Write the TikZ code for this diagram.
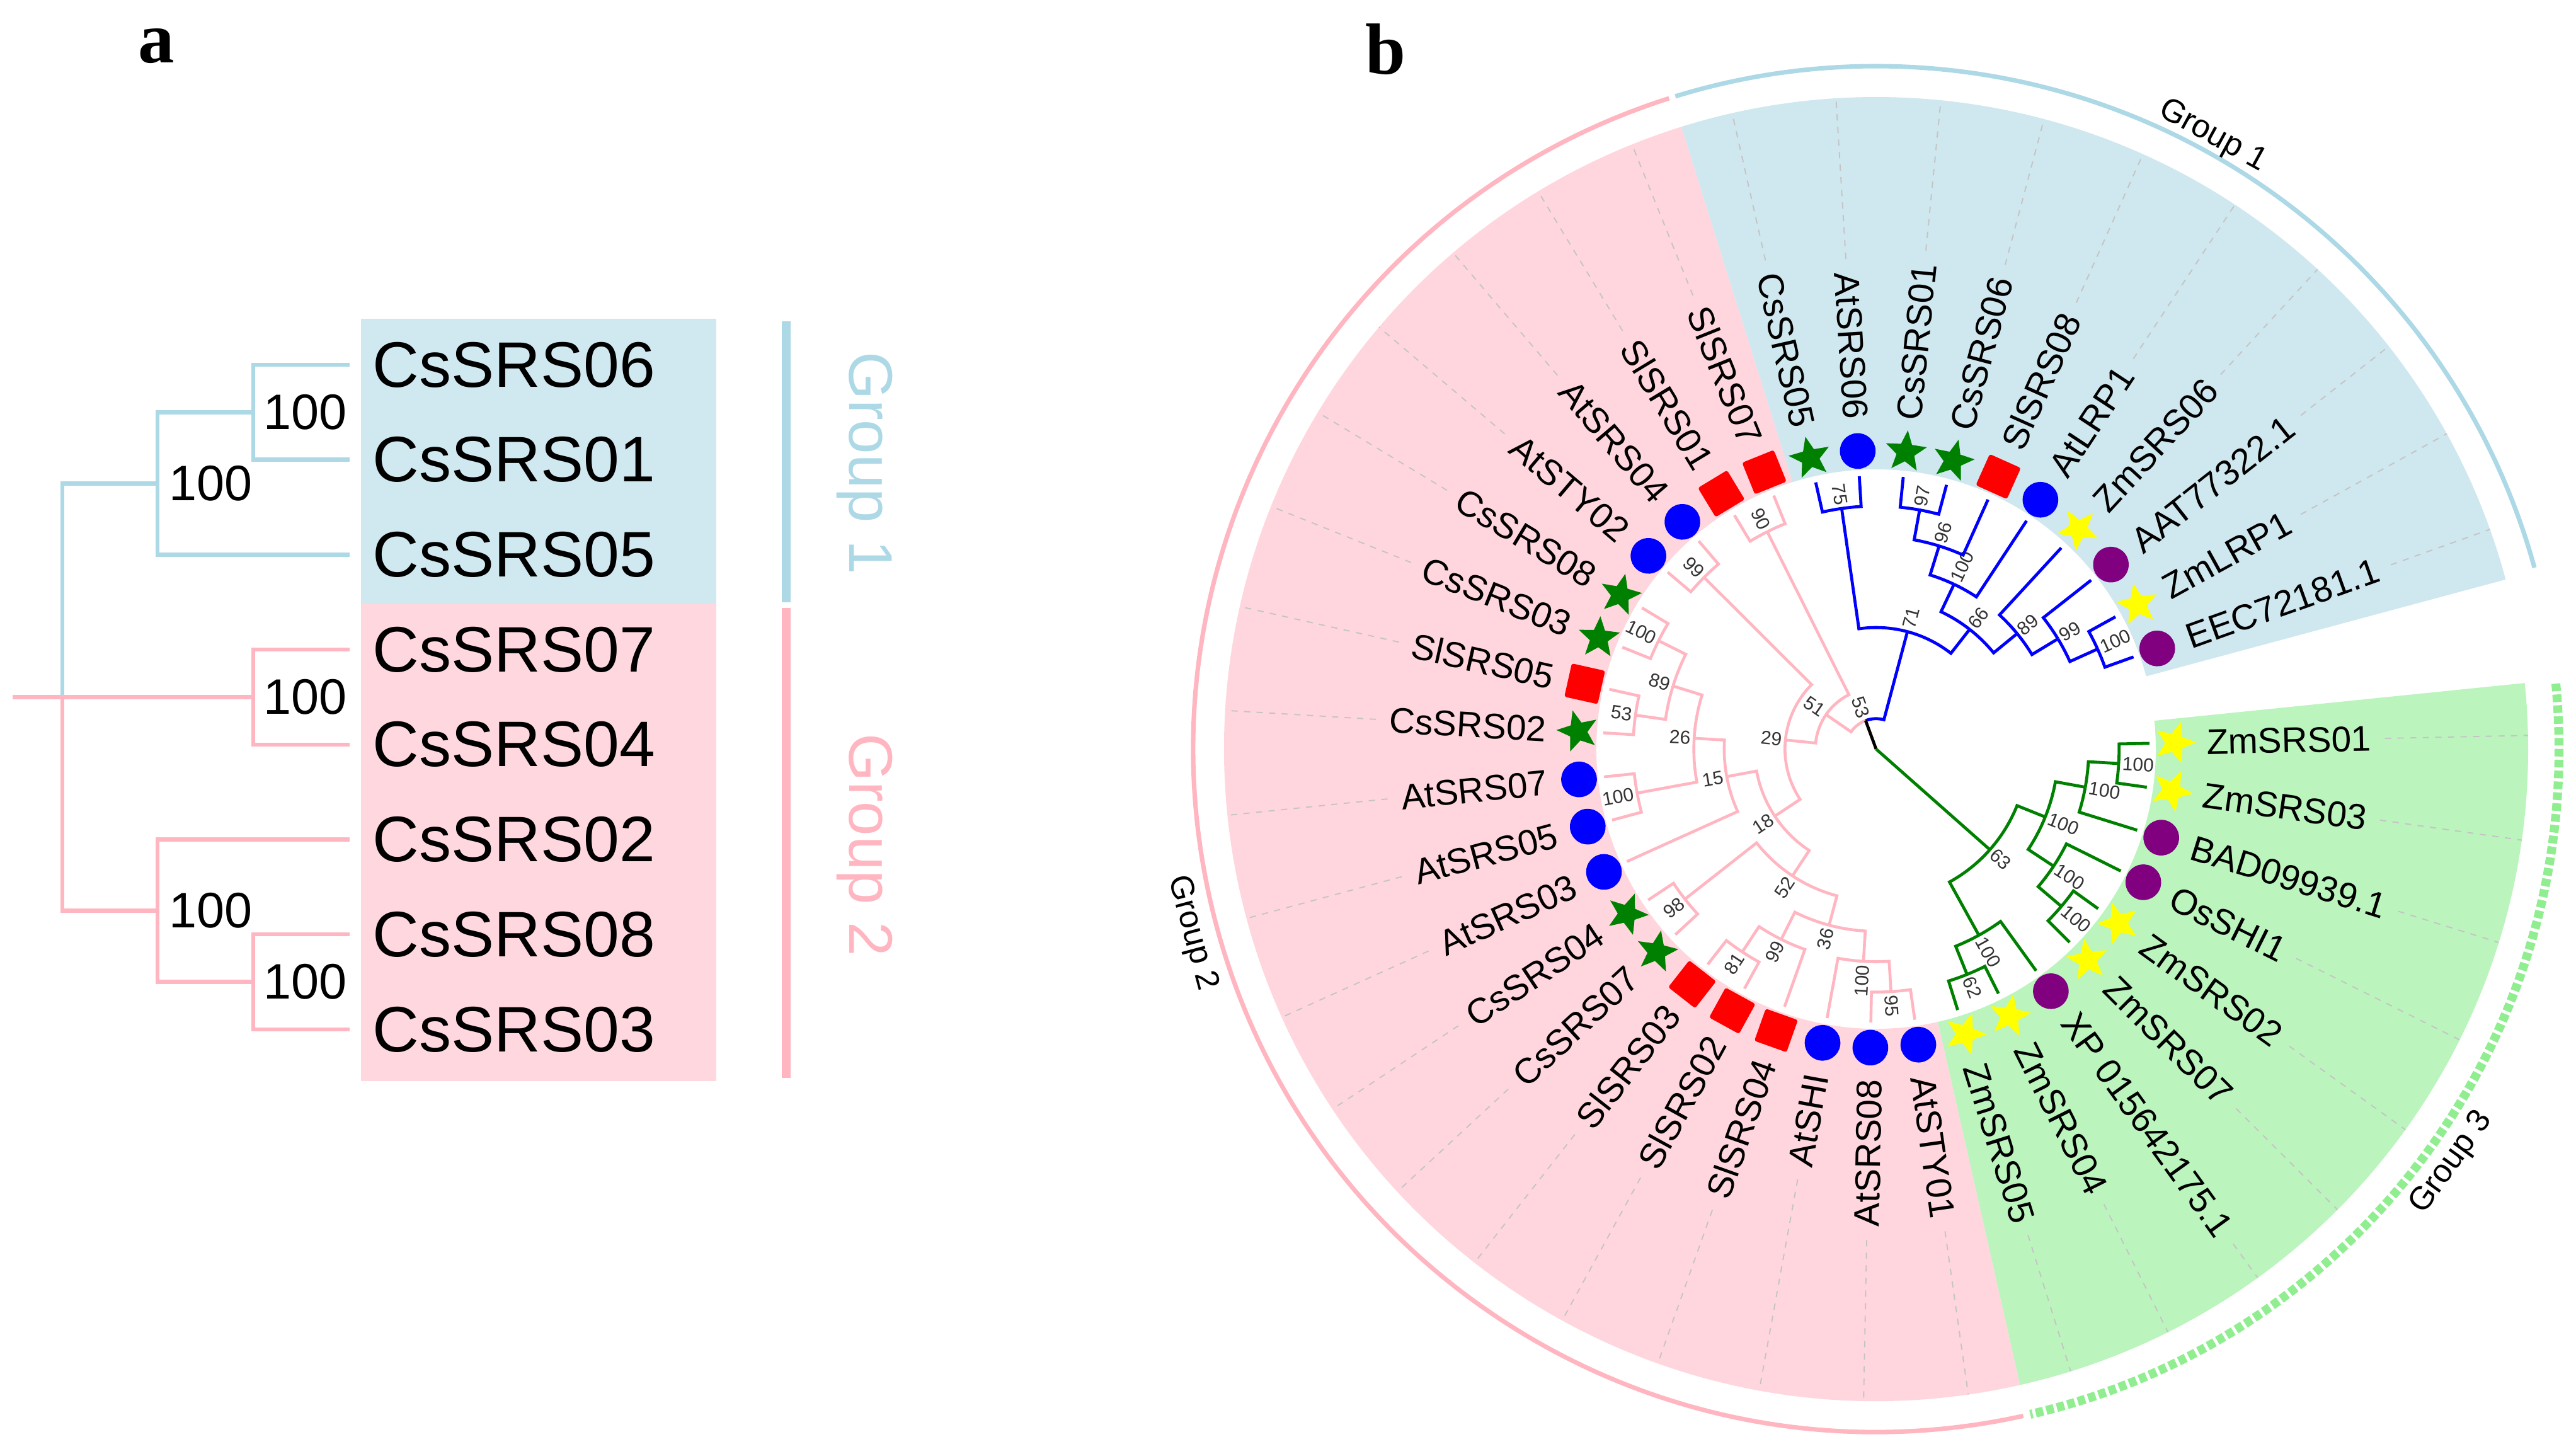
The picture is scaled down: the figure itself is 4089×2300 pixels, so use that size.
\documentclass[tikz,border=0pt]{standalone}
\usepackage{fontspec}
\setmainfont{Liberation Sans}
\newfontfamily\panelfont{Liberation Serif}
\usetikzlibrary{shapes.geometric}
\definecolor{tblue}{RGB}{0,0,255}
\definecolor{tpink}{RGB}{255,182,193}
\definecolor{tgreen}{RGB}{0,128,0}
\definecolor{lblue}{RGB}{173,216,230}
\definecolor{lgreen}{RGB}{144,238,144}
\definecolor{shblue}{RGB}{207,231,238}
\definecolor{shpink}{RGB}{255,214,222}
\definecolor{shgreen}{RGB}{187,244,189}
\definecolor{boxblue}{RGB}{208,232,239}
\definecolor{boxpink}{RGB}{255,216,223}
\definecolor{mpurple}{RGB}{128,0,128}
\definecolor{myellow}{RGB}{255,255,0}
\definecolor{mred}{RGB}{255,0,0}
\definecolor{dashgray}{RGB}{196,196,196}
\newcommand\conn[3]{\draw[#3] (#1) arc[start angle=\csname tA#1\endcsname, end angle=\csname tA#2\endcsname, radius=\csname tR#1\endcsname] -- (#2);}
\newcommand\sector[3]{\fill[#3] (#1:444) -- (#1:1035) arc[start angle=#1, end angle=#2, radius=1035] -- (#2:444) arc[start angle=#2, end angle=#1, radius=444] -- cycle;}
\tikzset{
 ablue/.style={draw=lblue, line width=1.56pt},
 apink/.style={draw=tpink, line width=1.56pt},
 alab/.style={anchor=west, inner sep=0pt, font=\fontsize{24.5}{28}\selectfont},
 abs/.style={inner sep=0pt, font=\fontsize{19}{22}\selectfont},
 agrp/.style={rotate=-90, inner sep=0pt, font=\fontsize{23.5}{27}\selectfont},
 panel/.style={inner sep=0pt, font=\panelfont\bfseries\fontsize{27.6}{32}\selectfont},
 bline/.style={draw=tblue, line width=1.15pt},
 pline/.style={draw=tpink, line width=1.1pt},
 gline/.style={draw=tgreen, line width=1.15pt},
 kline/.style={draw=black, line width=1.15pt},
 blab/.style={inner sep=0pt, font=\fontsize{13.6}{16}\selectfont},
 bsb/.style={inner sep=0pt, text=black!80, font=\fontsize{7.2}{8}\selectfont},
 bgrp/.style={inner sep=0pt, font=\fontsize{12.4}{14}\selectfont},
 dashln/.style={draw=dashgray, line width=0.45pt, dash pattern=on 2.4pt off 2.4pt, shorten <=5pt},
 mcircle/.style={circle, inner sep=0pt, minimum size=13.6pt},
 msquare/.style={rectangle, inner sep=0pt, minimum size=13pt, rounded corners=0.8pt},
 mstar/.style={star, star points=5, star point ratio=2.3, inner sep=0pt, minimum size=16.5pt},
}
\begin{document}
\begin{tikzpicture}[x=0.24pt,y=0.24pt]
\useasboundingbox (0,0) rectangle (4089,2300);
% ================= panel a =================
\node[panel] (pa) at (248,2227) {a};
\fill[boxblue] (573,1342) rectangle (1137,1794);
\fill[boxpink] (573,584) rectangle (1137,1342);
\coordinate (e1) at (555,1721);
\coordinate (e2) at (555,1570.3);
\coordinate (e3) at (555,1419.6);
\coordinate (e4) at (555,1268.9);
\coordinate (e5) at (555,1118.2);
\coordinate (e6) at (555,967.5);
\coordinate (e7) at (555,816.8);
\coordinate (e8) at (555,666.1);
\coordinate (nA) at (402,1645.65);
\coordinate (nB) at (250,1532.6);
\coordinate (nC) at (402,1193.55);
\coordinate (nD) at (402,741.45);
\coordinate (nE) at (250,854.5);
\coordinate (nR) at (99,1193.55);
\coordinate (r0) at (20,1193.55);
\draw[ablue] (nA) |- (e1);
\draw[ablue] (nA) |- (e2);
\draw[ablue] (nB) |- (nA);
\draw[ablue] (nB) |- (e3);
\draw[ablue] (nR) |- (nB);
\draw[apink] (nR) |- (nE);
\draw[apink] (r0) -- (nC);
\draw[apink] (nC) |- (e4);
\draw[apink] (nC) |- (e5);
\draw[apink] (nE) |- (e6);
\draw[apink] (nE) |- (nD);
\draw[apink] (nD) |- (e7);
\draw[apink] (nD) |- (e8);
\node[alab] (t1) at (591,1721) {CsSRS06};
\node[alab] (t2) at (591,1570.3) {CsSRS01};
\node[alab] (t3) at (591,1419.6) {CsSRS05};
\node[alab] (t4) at (591,1268.9) {CsSRS07};
\node[alab] (t5) at (591,1118.2) {CsSRS04};
\node[alab] (t6) at (591,967.5) {CsSRS02};
\node[alab] (t7) at (591,816.8) {CsSRS08};
\node[alab] (t8) at (591,666.1) {CsSRS03};
\node[abs] (bA) at (485,1645.65) {100};
\node[abs] (bB) at (335,1532.6) {100};
\node[abs] (bC) at (485,1193.55) {100};
\node[abs] (bE) at (335,854.5) {100};
\node[abs] (bD) at (485,741.45) {100};
\draw[lblue, line width=3.36pt] (1248,1790) -- (1248,1344);
\draw[tpink, line width=3.36pt] (1248,1335) -- (1248,589);
\node[agrp, text=lblue] (ga1) at (1373,1565) {Group 1};
\node[agrp, text=tpink] (ga2) at (1373,959) {Group 2};
% ================= panel b =================
\node[panel] (pb) at (2199,2222) {b};
\begin{scope}[shift={(2978,1111)}]
\sector{5.815}{-77.255}{shgreen}
\sector{-77.255}{-252.625}{shpink}
\sector{-252.625}{-344.925}{shblue}
\draw[tpink, line width=1.7pt] (-77.55:1084) arc[start angle=-77.55, end angle=-252.35, radius=1084];
\draw[lblue, line width=1.7pt] (-252.9:1084) arc[start angle=-252.9, end angle=-344.6, radius=1084];
\draw[lgreen, line width=3.4pt, dash pattern=on 2.9pt off 1.25pt] (5.5:1084) arc[start angle=5.5, end angle=-76.95, radius=1084];
\node[bgrp, rotate=-28.8] (gb1) at (-298.775:1110) {Group 1};
\node[bgrp, rotate=285.06] (gb2) at (-164.94:1125) {Group 2};
\node[bgrp, rotate=54.28] (gb3) at (-35.72:1125) {Group 3};
\coordinate (root) at (0,0);
% leaves
\foreach \i/\nm/\mk/\mc in {0/ZmSRS01/mstar/myellow,1/ZmSRS03/mstar/myellow,2/BAD09939.1/mcircle/mpurple,3/OsSHI1/mcircle/mpurple,4/ZmSRS02/mstar/myellow,5/ZmSRS07/mstar/myellow,6/XP 015642175.1/mcircle/mpurple,7/ZmSRS04/mstar/myellow,8/ZmSRS05/mstar/myellow,9/AtSTY01/mcircle/tblue,10/AtSRS08/mcircle/tblue,11/AtSHI/mcircle/tblue,12/SlSRS04/msquare/mred,13/SlSRS02/msquare/mred,14/SlSRS03/msquare/mred,15/CsSRS07/mstar/tgreen,16/CsSRS04/mstar/tgreen,17/AtSRS03/mcircle/tblue,18/AtSRS05/mcircle/tblue,19/AtSRS07/mcircle/tblue,20/CsSRS02/mstar/tgreen,21/SlSRS05/msquare/mred,22/CsSRS03/mstar/tgreen,23/CsSRS08/mstar/tgreen,24/AtSTY02/mcircle/tblue,25/AtSRS04/mcircle/tblue,26/SlSRS01/msquare/mred,27/SlSRS07/msquare/mred,28/CsSRS05/mstar/tgreen,29/AtSRS06/mcircle/tblue,30/CsSRS01/mstar/tgreen,31/CsSRS06/mstar/tgreen,32/SlSRS08/msquare/mred,33/AtLRP1/mcircle/tblue,34/ZmSRS06/mstar/myellow,35/AAT77322.1/mcircle/mpurple,36/ZmLRP1/mstar/myellow,37/EEC72181.1/mcircle/mpurple}{
  \pgfmathsetmacro\a{1.2-9.23*\i}
  \pgfmathsetmacro\rm{\a-90}
  \pgfmathsetmacro\rf{\a+180}
  \pgfmathtruncatemacro\fl{and(\a<-90,\a>-270)}
  \coordinate (L\i) at (\a:434);
  \expandafter\xdef\csname tAL\i\endcsname{\a}
  \node[\mk, fill=\mc, rotate=\rm] (M\i) at (\a:474) {};
  \ifnum\fl=1
    \node[blab, anchor=east, rotate=\rf] (T\i) at (\a:524) {\nm};
    \draw[dashln] (T\i.west) -- (\a:1035);
  \else
    \node[blab, anchor=west, rotate=\a] (T\i) at (\a:524) {\nm};
    \draw[dashln] (T\i.east) -- (\a:1035);
  \fi
}
% internal nodes with bootstrap values
\foreach \nn/\ang/\hh/\bv in {g3a/-3.415/1/100,g3b/-10.3375/2/100,g3e/-40.335/1/100,g3d/-33.4125/2/100,g3c/-21.875/3/100,g3g/-68.025/1/62,g3f/-61.1025/2/100,g3r/-41.49/4/63,p95/-86.485/1/95,p100c/-93.4075/2/100,p81/-123.405/1/81,p99b/-116.4825/2/99,p36/-104.945/3/36,p98/-141.865/1/98,p52/-123.405/4/52,p100b/-169.555/1/100,p53a/-188.015/1/53,p100a/-206.475/1/100,p89/-197.245/2/89,p26/-183.4/3/26,p15/-169.555/4/15,p18/-146.48/5/18,p99a/-224.935/1/99,p29/-185.7075/6/29,p90/-243.395/1/90,p51/-214.55/7/51,b75/-261.855/1/75,b97/-280.315/1/97,b96/-287.2375/2/96,b100/-295.31/3/100,b100b/-335.695/1/100,b99/-328.77/2/99,b89/-320.695/3/89,b66/-308.0/4/66,b71/-284.93/5/71,n53/-249.74/8/53}{
  \pgfmathsetmacro\rr{48.22*(9-\hh)}
  \pgfmathsetmacro\rq{\rr+5}
  \pgfmathsetmacro\rf{\ang+180}
  \coordinate (\nn) at (\ang:\rr);
  \expandafter\xdef\csname tA\nn\endcsname{\ang}
  \expandafter\xdef\csname tR\nn\endcsname{\rr}
  \pgfmathtruncatemacro\fl{and(\ang<-90,\ang>-270)}
  \ifnum\fl=1
    \node[bsb, anchor=east, rotate=\rf] (bs\nn) at (\ang:\rq) {\bv};
  \else
    \node[bsb, anchor=west, rotate=\ang] (bs\nn) at (\ang:\rq) {\bv};
  \fi
}
% connectors
\foreach \p/\c in {g3a/L0,g3a/L1,g3b/g3a,g3b/L2,g3e/L4,g3e/L5,g3d/L3,g3d/g3e,g3c/g3b,g3c/g3d,g3g/L7,g3g/L8,g3f/L6,g3f/g3g,g3r/g3c,g3r/g3f}{\conn{\p}{\c}{gline}}
\foreach \p/\c in {p95/L9,p95/L10,p100c/p95,p100c/L11,p81/L13,p81/L14,p99b/L12,p99b/p81,p36/p100c,p36/p99b,p98/L15,p98/L16,p52/p36,p52/p98,p100b/L18,p100b/L19,p53a/L20,p53a/L21,p100a/L22,p100a/L23,p89/p53a,p89/p100a,p26/p100b,p26/p89,p15/L17,p15/p26,p18/p52,p18/p15,p99a/L24,p99a/L25,p29/p18,p29/p99a,p90/L26,p90/L27,p51/p29,p51/p90,n53/p51}{\conn{\p}{\c}{pline}}
\foreach \p/\c in {b75/L28,b75/L29,b97/L30,b97/L31,b96/b97,b96/L32,b100/b96,b100/L33,b100b/L36,b100b/L37,b99/L35,b99/b100b,b89/L34,b89/b99,b66/b100,b66/b89,b71/b75,b71/b66,n53/b71}{\conn{\p}{\c}{bline}}
\draw[kline] (root) -- (n53);
\draw[gline] (root) -- (g3r);
\end{scope}
\end{tikzpicture}
\end{document}
